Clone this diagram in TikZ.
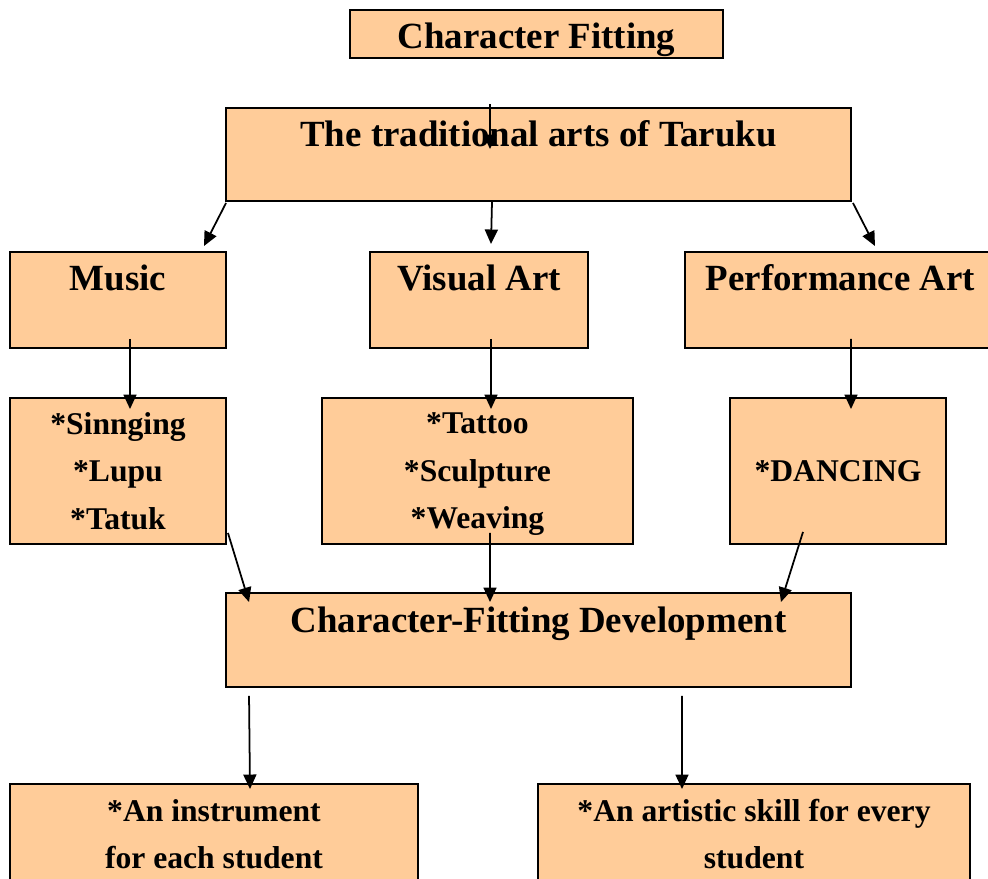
\documentclass[tikz,border=0pt]{standalone}
\usepackage{fontspec}
\setmainfont{Liberation Serif}
\usetikzlibrary{arrows.meta}
\definecolor{peach}{RGB}{255,204,153}
\tikzset{
  cbox/.style    = {draw=black, line width=1.1pt, fill=peach, align=center,
                    inner xsep=0pt, inner ysep=0pt},
  % heads: text sits near the top edge, so the depth pads the rest
  chead/.style   = {cbox, font=\fontsize{21}{25}\selectfont\bfseries,
                    text height=0.78cm},
  citem/.style   = {cbox, font=\fontsize{18}{27}\selectfont\bfseries},
  arr/.style     = {line width=1pt, -{Triangle[length=0.29cm,width=0.26cm]}},
}

\begin{document}
\begin{tikzpicture}

    \useasboundingbox (0,0) rectangle (19.76,-17.58);

    \node[chead, minimum width=7.46cm, text depth=0.18cm] (title) at (10.73,-0.68) {Character Fitting};

    \node[chead, minimum width=12.5cm, text depth=1.08cm] (trad) at (10.77,-3.09) {The traditional arts of Taruku};

    \node[chead, minimum width=4.32cm, text depth=1.14cm] (music)  at (2.36,-6.00)  {Music};
    \node[chead, minimum width=4.36cm, text depth=1.14cm] (visual) at (9.58,-6.00)  {Visual Art};
    \node[chead, minimum width=6.22cm, text depth=1.14cm] (perf)   at (16.81,-6.00) {Performance Art};

    \node[citem, minimum width=4.32cm, minimum height=2.92cm] (sing)   at (2.36,-9.42)  {*Sinnging\\*Lupu\\*Tatuk};
    \node[citem, minimum width=6.22cm, minimum height=2.92cm] (tattoo) at (9.55,-9.42)  {*Tattoo\\*Sculpture\\\smash{*Weaving}};
    \node[citem, minimum width=4.32cm, minimum height=2.92cm] (dance)  at (16.76,-9.42) {*DANCING};

    \node[chead, minimum width=12.5cm, text depth=1.10cm] (dev) at (10.77,-12.80) {Character-Fitting Development};

    \node[citem, minimum width=8.16cm, minimum height=2.0cm] (instr) at (4.28,-16.68)  {*An instrument\\for each student};
    \node[citem, minimum width=8.64cm, minimum height=2.0cm] (skill) at (15.08,-16.68) {*An artistic skill for every\\student};

    \draw[arr] ([shift={(-0.93,-0.90)}]title.south) -- ([shift={(-0.97,-0.84)}]trad.north);

    \draw[arr] ([shift={(0.02,-0.02)}]trad.south west) -- ([shift={(-0.46,0.10)}]music.north east);
    \draw[arr] ([shift={(-0.93,0)}]trad.south) -- ([shift={(0.24,0.14)}]visual.north);
    \draw[arr] ([shift={(0.02,-0.02)}]trad.south east) -- ([shift={(0.69,0.10)}]perf.north);

    \draw[arr] ([shift={(0.24,0.20)}]music.south)  -- ([shift={(0.24,-0.24)}]sing.north);
    \draw[arr] ([shift={(0.24,0.20)}]visual.south) -- ([shift={(0.27,-0.24)}]tattoo.north);
    \draw[arr] ([shift={(0.21,0.20)}]perf.south)   -- ([shift={(0.26,-0.24)}]dance.north);

    \draw[arr] ([shift={(0.02,0.24)}]sing.south east) -- ([shift={(0.48,-0.20)}]dev.north west);
    \draw[arr] ([shift={(0.25,0.24)}]tattoo.south)    -- ([shift={(-0.97,-0.20)}]dev.north);
    \draw[arr] ([shift={(-0.70,0.26)}]dance.south)    -- ([shift={(-1.42,-0.20)}]dev.north east);

    \draw[arr] ([shift={(0.48,-0.16)}]dev.south west) -- ([shift={(0.72,-0.12)}]instr.north);
    \draw[arr] ([shift={(2.87,-0.16)}]dev.south)      -- ([shift={(-1.44,-0.12)}]skill.north);
  \end{tikzpicture}
\end{document}
